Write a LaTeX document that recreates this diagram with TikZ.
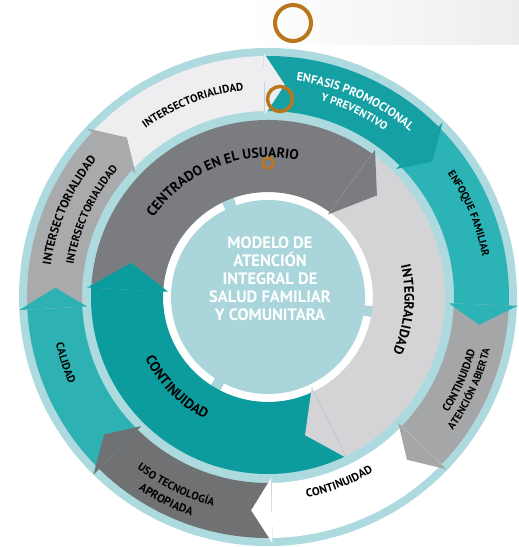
\documentclass[tikz,border=0pt]{standalone}
\usepackage{fontspec}
\setmainfont{PT Sans}
\usetikzlibrary{decorations.text}
\definecolor{ltblue}{HTML}{ADDADF}
\definecolor{diskblue}{HTML}{A9D5DB}
\definecolor{tealA}{HTML}{15A1A4}
\definecolor{tealB}{HTML}{2BB3B6}
\definecolor{tealC}{HTML}{2EB1B3}
\definecolor{tealIn}{HTML}{0C9C9E}
\definecolor{grayI}{HTML}{A9AAAC}
\definecolor{grayC}{HTML}{A5A6A8}
\definecolor{grayU}{HTML}{6F7173}
\definecolor{grayCen}{HTML}{7B7C7F}
\definecolor{grayInt}{HTML}{D4D4D6}
\definecolor{whiteI}{HTML}{EEEEF1}
\definecolor{orangeM}{HTML}{BA761C}
% annular sector: colour, start angle, end angle, inner r, outer r
\newcommand{\annsec}[5]{\fill[#1] (#2:#4pt) arc[start angle=#2, end angle=#3, radius=#4pt] -- (#3:#5pt) arc[start angle=#3, end angle=#2, radius=#5pt] -- cycle;}
% arrow head: colour, barb angle, tip angle, inner barb r, outer barb r, tip r
\newcommand{\arrhead}[6]{\fill[#1] (#2:#4pt) -- (#2:#5pt) -- (#3:#6pt) -- cycle;}
% clockwise text (tops outward): centre angle, baseline r, size, colour, text
\newcommand{\cwtext}[5]{\path[decorate,decoration={text along path,text align=center,text color=#4,text={|\fontsize{#3}{#3}\selectfont\bfseries|#5}}] ({#1+70}:#2pt) arc[start angle={#1+70},end angle={#1-70},radius=#2pt];}
% counter-clockwise text (tops inward)
\newcommand{\ccwtext}[5]{\path[decorate,decoration={text along path,text align=center,text color=#4,text={|\fontsize{#3}{#3}\selectfont\bfseries|#5}}] ({#1-70}:#2pt) arc[start angle={#1-70},end angle={#1+70},radius=#2pt];}
\tikzset{ring/.style={line width=#1, draw=orangeM}}
\begin{document}
\begin{tikzpicture}[x=1pt,y=1pt]
\useasboundingbox (0,0) rectangle (519,547);
\fill[white] (0,0) rectangle (519,547);
\shade[left color=white, right color=black!7] (250,502) rectangle (519,547);
\begin{scope}[shift={(268,250)}]
\fill[ltblue] (0,0) circle[radius=249pt];
% outer bodies
\annsec{whiteI}{137}{91}{186}{241}
\annsec{tealA}{91}{45}{186}{241}
\annsec{tealB}{45}{-2}{186}{241}
\annsec{grayC}{-2}{-44}{186}{241}
\annsec{white}{-44}{-89}{186}{241}
\annsec{grayU}{-89}{-134.5}{186}{241}
\annsec{tealC}{225.5}{183}{186}{241}
\annsec{grayI}{183}{137}{186}{241}
% outer heads
\arrhead{whiteI}{91}{85.5}{182}{244}{213}
\arrhead{tealA}{45}{39.5}{181}{247}{213}
\arrhead{tealB}{-2}{-7.5}{181}{250}{213}
\arrhead{grayC}{-44}{-49.5}{181}{248}{214}
\arrhead{white}{-89}{-94.5}{181}{246}{214}
\arrhead{grayU}{-134.5}{-140}{181}{249}{214}
\arrhead{tealC}{183}{177.5}{181}{249}{213}
\arrhead{grayI}{137}{131.5}{181}{247}{213}
% white ring and centre disk
\fill[white] (0,0) circle[radius=105pt];
\fill[diskblue] (0,0) circle[radius=97pt];
\annsec{diskblue}{116}{109}{96}{106}
\annsec{diskblue}{-5}{-11}{96}{106}
\annsec{diskblue}{-117}{-123}{96}{106}
% inner bodies
\annsec{grayCen}{177}{54}{105}{177}
\annsec{grayInt}{54}{-64}{105}{177}
\annsec{tealIn}{-64}{-183}{105}{177}
% inner heads
\arrhead{grayCen}{54}{43}{102}{182}{149}
\arrhead{grayInt}{-64}{-75}{100}{179}{143}
\arrhead{tealIn}{177}{166}{100}{181}{141}
% texts outer ring
\cwtext{111.4}{208}{11}{black}{INTERSECTORIALIDAD}
\cwtext{66}{218}{12}{white}{ENFASIS  PROMOCIONAL}
\cwtext{65}{203}{11}{white}{Y PREVENTIVO}
\cwtext{22.6}{218}{10.5}{black}{ENFOQUE FAMILIAR}
\ccwtext{-23.6}{214}{11}{black}{CONTINUIDAD}
\ccwtext{-24.5}{228}{10.5}{black}{ATENCIÓN ABIERTA}
\ccwtext{-69}{204}{11.5}{black}{CONTINUIDAD}
\ccwtext{-116}{216}{11}{black}{USO TECNOLOGÍA}
\ccwtext{-116.6}{232}{11.5}{black}{APROPIADA}
\ccwtext{198}{217}{11}{black}{CALIDAD}
\cwtext{156.5}{219.5}{12}{black}{INTERSECTORIALIDAD}
\cwtext{155}{197}{11}{black}{INTERSECTORIALIDAD}
% texts inner ring
\cwtext{111.4}{139.5}{14}{black}{CENTRADO EN EL USUARIO}
\cwtext{-5.4}{136.5}{13.5}{black}{INTEGRALIDAD}
\ccwtext{224.7}{137.5}{14}{black}{CONTINUIDAD}
\node[font=\fontsize{16.5}{18}\selectfont\bfseries, text=white, align=center] (centre) at (2,18) {MODELO DE\\ATENCIÓN\\INTEGRAL DE\\SALUD FAMILIAR\\Y COMUNITARA};
\end{scope}
% orange marker rings
\draw[ring=4pt] (293,524) circle[radius=18pt];
\draw[ring=3.5pt] (280,448) circle[radius=12.5pt];
\draw[ring=2.5pt] (268,384) circle[radius=5.5pt];
\end{tikzpicture}
\end{document}
